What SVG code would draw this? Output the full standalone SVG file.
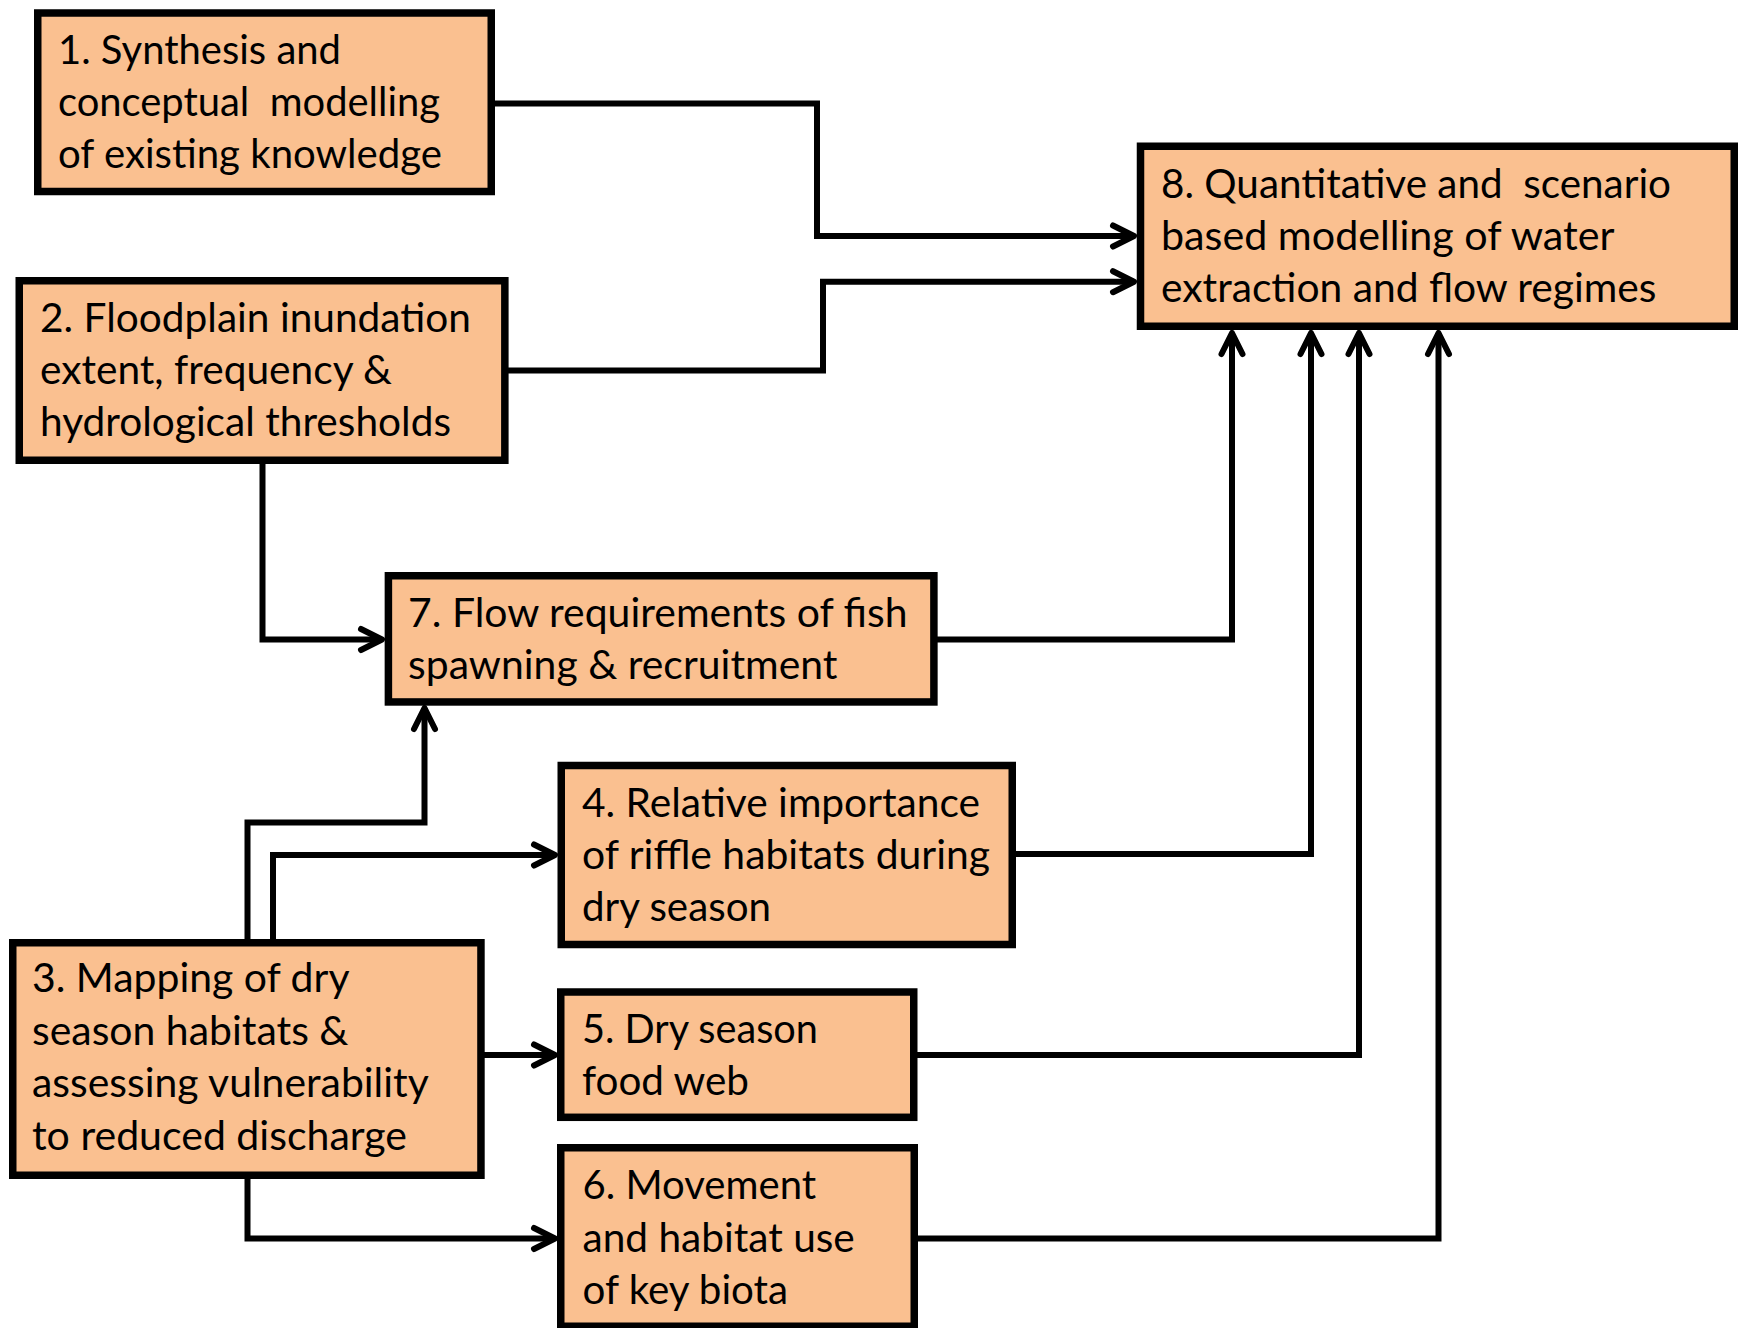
<svg xmlns="http://www.w3.org/2000/svg" width="1739" height="1328" viewBox="0 0 1739 1328">
<style>
.box{fill:#FAC090;stroke:#000;stroke-width:7.5;stroke-linejoin:miter}
.t{font-family:Lato,"Open Sans","Liberation Sans",sans-serif;font-size:41px;fill:#000}
.c{fill:none;stroke:#000;stroke-width:6;stroke-linejoin:miter;marker-end:url(#ah)}
</style>
<defs>
<marker id="ah" markerUnits="userSpaceOnUse" markerWidth="60" markerHeight="60" refX="0" refY="0" orient="auto" overflow="visible">
<path d="M-21,-10.5 L0,0 L-21,10.5" fill="none" stroke="#000" stroke-width="6" stroke-linecap="round" stroke-linejoin="round"/>
</marker>
</defs>
<rect width="1739" height="1328" fill="#fff"/>
<g id="connectors">
<path class="c" d="M495,103.5 H817 V236 H1134"/>
<path class="c" d="M508,370.5 H823 V281.7 H1134"/>
<path class="c" d="M262.5,464 V639.5 H382"/>
<path class="c" d="M937,639.5 H1232 V333"/>
<path class="c" d="M247.5,939 V822.5 H424.5 V708"/>
<path class="c" d="M273,939 V855 H555"/>
<path class="c" d="M1016,854 H1311 V333"/>
<path class="c" d="M484,1055 H555"/>
<path class="c" d="M917,1055 H1359 V333"/>
<path class="c" d="M247.5,1179 V1238.5 H555"/>
<path class="c" d="M918,1238.5 H1438.5 V333"/>
</g>
<g id="node1">
<rect class="box" x="37.75" y="13" width="453.5" height="178.5"/>
<text class="t" x="58" y="64" textLength="283" lengthAdjust="spacingAndGlyphs">1. Synthesis and</text>
<text class="t" x="58" y="116" textLength="382" lengthAdjust="spacingAndGlyphs">conceptual&#160; modelling</text>
<text class="t" x="58" y="167.5" textLength="384" lengthAdjust="spacingAndGlyphs">of existing knowledge</text>
</g>
<g id="node2">
<rect class="box" x="19.25" y="280.75" width="485.6" height="179.5"/>
<text class="t" x="40" y="332" textLength="431" lengthAdjust="spacingAndGlyphs">2. Floodplain inundation</text>
<text class="t" x="40" y="384" textLength="352" lengthAdjust="spacingAndGlyphs">extent, frequency &amp;</text>
<text class="t" x="40" y="435.5" textLength="411" lengthAdjust="spacingAndGlyphs">hydrological thresholds</text>
</g>
<g id="node8">
<rect class="box" x="1140.5" y="146.25" width="593.75" height="180"/>
<text class="t" x="1161" y="197.5" textLength="510" lengthAdjust="spacingAndGlyphs">8. Quantitative and&#160; scenario</text>
<text class="t" x="1161" y="249.5" textLength="453.5" lengthAdjust="spacingAndGlyphs">based modelling of water</text>
<text class="t" x="1161" y="301.5" textLength="495.5" lengthAdjust="spacingAndGlyphs">extraction and flow regimes</text>
</g>
<g id="node7">
<rect class="box" x="388.4" y="575.75" width="545.5" height="126.2"/>
<text class="t" x="408" y="627" textLength="499.5" lengthAdjust="spacingAndGlyphs">7. Flow requirements of fish</text>
<text class="t" x="408" y="679" textLength="429.5" lengthAdjust="spacingAndGlyphs">spawning &amp; recruitment</text>
</g>
<g id="node4">
<rect class="box" x="561.25" y="765.5" width="451" height="179"/>
<text class="t" x="582" y="816.5" textLength="398" lengthAdjust="spacingAndGlyphs">4. Relative importance</text>
<text class="t" x="582" y="868.5" textLength="408" lengthAdjust="spacingAndGlyphs">of riffle habitats during</text>
<text class="t" x="582" y="920.5" textLength="189" lengthAdjust="spacingAndGlyphs">dry season</text>
</g>
<g id="node3">
<rect class="box" x="12.75" y="942.75" width="468.2" height="232.5"/>
<text class="t" x="32" y="992" textLength="317.5" lengthAdjust="spacingAndGlyphs">3. Mapping of dry</text>
<text class="t" x="32" y="1045" textLength="316.5" lengthAdjust="spacingAndGlyphs">season habitats &amp;</text>
<text class="t" x="32" y="1097" textLength="396.8" lengthAdjust="spacingAndGlyphs">assessing vulnerability</text>
<text class="t" x="32" y="1150" textLength="375" lengthAdjust="spacingAndGlyphs">to reduced discharge</text>
</g>
<g id="node5">
<rect class="box" x="560.75" y="992" width="353" height="125.3"/>
<text class="t" x="582" y="1043" textLength="236" lengthAdjust="spacingAndGlyphs">5. Dry season</text>
<text class="t" x="582" y="1095" textLength="167" lengthAdjust="spacingAndGlyphs">food web</text>
</g>
<g id="node6">
<rect class="box" x="560.75" y="1147.75" width="353.5" height="178.5"/>
<text class="t" x="582.5" y="1199" textLength="233.6" lengthAdjust="spacingAndGlyphs">6. Movement</text>
<text class="t" x="582.5" y="1251.5" textLength="272.3" lengthAdjust="spacingAndGlyphs">and habitat use</text>
<text class="t" x="582.5" y="1304" textLength="205.6" lengthAdjust="spacingAndGlyphs">of key biota</text>
</g>
</svg>
